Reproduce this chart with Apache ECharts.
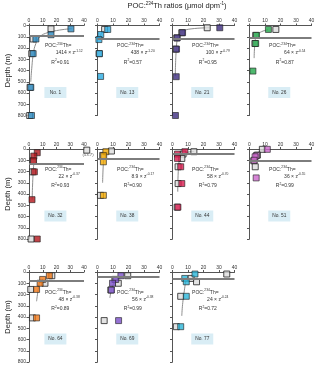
<!DOCTYPE html>
<html><head><meta charset="utf-8">
<script src="https://cdn.jsdelivr.net/npm/echarts@6/dist/echarts.min.js"></script>
<style>html,body{margin:0;padding:0;background:#fff}#c{width:320px;height:369px}</style>
</head><body><div id="c"></div>
<script>
// ---------- data (ratio, depth) ----------
const stations = ['No. 1','No. 13','No. 21','No. 26','No. 32','No. 38','No. 44','No. 51','No. 64','No. 69','No. 77'];
const stationColors = ['#2a8ac0','#29abe2','#3d2d80','#22a84a','#b3151b','#f2a900','#d81b4f','#cc66cc','#f07818','#7b4fc9','#2bb5d8'];
const mldDepth = [95, 115, 115, 105, 128, 83, 45, 105, 82, 42, 62];
const fitA = ['1414','438','100','64','22','8.9','58','36','48','56','24'];
const fitB = ['-1.12','-1.20','-0.79','-0.54','-0.37','-0.17','-0.70','-0.55','-0.38','-0.38','-0.24'];
const fitR2 = ['0.91','0.57','0.95','0.87','0.93','0.90','0.79','0.99','0.89','0.99','0.72'];
const xRange = [0, 40];
const depthRange = [0, 800];

const no1_open = [[16,30],[3,120],[2,250],[0.8,550],[0.5,800]];
const no1_col  = [[30.5,30],[16,82],[5,120],[3,250],[1.3,550],[1.8,800]];
const no1_fit  = [[31,28],[20,45],[12,70],[8,100],[5,160],[3.2,250],[2,380],[1.3,500]];

const no13_open = [[4.6,35],[1,250]];
const no13_col  = [[6.6,35],[2.1,80],[0.9,125],[1.3,250],[2,453]];
const no13_fit  = [[6.5,33],[3.5,55],[2,85],[1.3,125]];

const no21_open = [[22.4,20],[6,64],[2.8,110],[2,210]];
const no21_col  = [[30.5,20],[6.5,64],[3,110],[2.6,210],[2.4,455],[1.9,800]];
const no21_fit  = [[24,20],[12,30],[6,55],[4,85],[3,130],[2.4,220],[2,330],[1.8,450]];

const no26_open = [[17,35],[4,88],[3.5,160]];
const no26_col  = [[12.2,35],[4.5,88],[4,160],[2.2,405]];
const no26_fit  = [[12,38],[7,60],[4.5,95],[3.5,160],[3,290]];

const no32_open = [[53.7,10],[3,105],[2.7,203],[1.5,800]];
const no32_col  = [[6,33],[3.5,63],[3.3,105],[3.9,203],[2.2,450],[6,800]];
const no32_fit  = [[6,30],[4.5,60],[3.7,110],[3.1,200],[2.6,320],[2.3,450]];

const no38_open = [[9,18],[3.4,57],[1.9,412]];
const no38_col  = [[5.4,24],[4,60],[3.8,114],[3.8,412]];
const no38_fit  = [[4.8,40],[4.2,80],[3.7,150],[3.3,300]];

const no44_open = [[13.8,24],[6.8,45],[6,84],[3.6,158],[3.6,307],[3,517]];
const no44_col  = [[8,24],[3.2,45],[3.2,84],[5.3,158],[6,307],[3.5,517]];
const no44_fit  = [[14,22],[8,35],[5.5,60],[4.3,110],[3.7,200],[3.4,380]];

const no51_open = [[8.3,3],[5.1,54],[2.8,105],[3.7,158]];
const no51_col  = [[11.5,3],[4.5,58],[3.6,69],[3,100],[4.3,257]];
const no51_fit  = [[10,8],[6.5,20],[5,50],[3.8,80],[3.2,110]];

const no64_open = [[16.6,33],[11.6,100],[1.3,155],[2.5,408]];
const no64_col  = [[14.8,33],[9.9,66],[8.1,100],[5.5,155],[5.5,408]];
const no64_fit  = [[7.5,90],[6.5,170],[5.5,260]];

const no69_open = [[19.5,33],[11.2,66],[13.4,100],[8.6,160],[4.3,432]];
const no69_col  = [[15.1,33],[11.8,66],[9.7,100],[9,160],[13.6,432]];
const no69_fit  = [[14.5,40],[11,90],[9,160],[8,230]];

const no77_open = [[35,18],[12,57],[15.5,87],[5.3,216],[2.5,486]];
const no77_col  = [[14.5,18],[7.9,57],[8.9,87],[8.9,216],[5.3,486]];
const no77_fit  = [[8.5,80],[7.5,180],[6.5,290],[6,390]];

const openSets = [no1_open,no13_open,no21_open,no26_open,no32_open,no38_open,no44_open,no51_open,no64_open,no69_open,no77_open];
const colSets  = [no1_col,no13_col,no21_col,no26_col,no32_col,no38_col,no44_col,no51_col,no64_col,no69_col,no77_col];
const fitSets  = [no1_fit,no13_fit,no21_fit,no26_fit,no32_fit,no38_fit,no44_fit,no51_fit,no64_fit,no69_fit,no77_fit];
const offScaleLabel = '(53.7)';

// ---------- layout ----------
const colLeft = [29, 97.5, 172.5, 249.5];
const colWidth = [55, 62, 62, 62];
const rowTop = [25.5, 149, 272];
const rowHeight = 90;
const axisCap = 42; // off-scale values drawn just past the right edge
const FONT = '"Liberation Sans", Arial, sans-serif';

const grids = [], xAxes = [], yAxes = [], series = [], graphics = [];
stations.forEach((name, i) => {
  const r = Math.floor(i / 4), c = i % 4;
  const l = colLeft[c], t = rowTop[r], w = colWidth[c];
  grids.push({ left: l, top: t, width: w, height: rowHeight });
  xAxes.push({
    gridIndex: i, type: 'value', position: 'top', min: xRange[0], max: xRange[1], interval: 10,
    axisLine: { show: true, onZero: false, lineStyle: { color: '#555', width: 1 } },
    axisTick: { show: true, length: 2, lineStyle: { color: '#555' } },
    axisLabel: { show: true, fontSize: 5, color: '#333', margin: 2, fontFamily: FONT },
    splitLine: { show: false }
  });
  yAxes.push({
    gridIndex: i, type: 'value', inverse: true, min: depthRange[0], max: depthRange[1], interval: 100,
    axisLine: { show: true, onZero: false, lineStyle: { color: '#555', width: 1 } },
    axisTick: { show: true, length: 2.5, lineStyle: { color: '#555' } },
    axisLabel: { show: c === 0, fontSize: 5, color: '#333', margin: 3, fontFamily: FONT },
    splitLine: { show: false }
  });
  // mixed-layer line
  series.push({
    type: 'line', xAxisIndex: i, yAxisIndex: i, data: [], silent: true, z: 2,
    markLine: { silent: true, symbol: ['none','none'], label: { show: false }, animation: false,
      lineStyle: { color: '#7d7d7d', width: 2, type: 'solid', opacity: 1 },
      emphasis: { disabled: true },
      data: [[{ coord: [xRange[0], mldDepth[i]] }, { coord: [xRange[1], mldDepth[i]] }]] }
  });
  // power-law fit curve
  series.push({
    type: 'line', xAxisIndex: i, yAxisIndex: i, data: fitSets[i], smooth: true,
    symbol: 'none', lineStyle: { color: '#808080', width: 0.9 }, z: 1, silent: true
  });
  series.push({
    type: 'scatter', xAxisIndex: i, yAxisIndex: i, clip: false,
    data: openSets[i].map(p => [Math.min(p[0], axisCap), p[1]]),
    symbol: 'rect', symbolSize: 6, z: 3,
    itemStyle: { color: '#dcdcdc', borderColor: '#222', borderWidth: 1 }
  });
  series.push({
    type: 'scatter', xAxisIndex: i, yAxisIndex: i, clip: false,
    data: colSets[i],
    symbol: 'rect', symbolSize: 6, z: 4,
    itemStyle: { color: stationColors[i], borderColor: '#222', borderWidth: 0.8 }
  });
  const rich = {
    n: { fontSize: 5, fontFamily: FONT, fill: '#333', color: '#333', lineHeight: 7 },
    s: { fontSize: 3.3, fontFamily: FONT, fill: '#333', color: '#333', verticalAlign: 'top', lineHeight: 7 }
  };
  graphics.push({ type: 'text', x: l + 0.53 * w, y: t + 20.5, z: 10,
    style: { text: '{n|POC:}{s|234}{n|Th=}', rich, align: 'center', verticalAlign: 'middle' } });
  graphics.push({ type: 'text', x: l + 0.73 * w, y: t + 27.5, z: 10,
    style: { text: '{n|' + fitA[i] + ' × z}{s|' + fitB[i] + '}', rich, align: 'center', verticalAlign: 'middle' } });
  graphics.push({ type: 'text', x: l + 0.57 * w, y: t + 37, z: 10,
    style: { text: '{n|R}{s|2}{n|=' + fitR2[i] + '}', rich, align: 'center', verticalAlign: 'middle' } });
  graphics.push({ type: 'rect', shape: { x: l + 0.48 * w - 11, y: t + 61.5, width: 22, height: 11 },
    style: { fill: '#d9edf5' }, z: 9 });
  graphics.push({ type: 'text', x: l + 0.48 * w, y: t + 67, z: 10,
    style: { text: name, fill: '#333', font: '4.8px ' + FONT, align: 'center', verticalAlign: 'middle' } });
  if (c === 0) {
    graphics.push({ type: 'text', x: 7.5, y: t + rowHeight / 2, rotation: Math.PI / 2, z: 10,
      style: { text: 'Depth (m)', fill: '#222', font: '7.5px ' + FONT, align: 'center', verticalAlign: 'middle' } });
  }
  if (i === 4) {
    graphics.push({ type: 'text', x: l + w + 4, y: t + 6, z: 10,
      style: { text: offScaleLabel, fill: '#555', font: '4.3px ' + FONT, align: 'center', verticalAlign: 'middle' } });
  }
});

graphics.push({ type: 'text', x: 177, y: 5.5, z: 10,
  style: { text: '{n|POC:}{s|234}{n|Th ratios (μmol dpm}{s|-1}{n|)}',
    rich: { n: { fontSize: 7.5, fontFamily: FONT, fill: '#222', color: '#222', lineHeight: 9 },
            s: { fontSize: 4.5, fontFamily: FONT, fill: '#222', color: '#222', verticalAlign: 'top', lineHeight: 9 } },
    align: 'center', verticalAlign: 'middle' } });

const chart = echarts.init(document.getElementById('c'), null, { renderer: 'canvas' });
chart.setOption({
  animation: false,
  backgroundColor: '#fff',
  grid: grids, xAxis: xAxes, yAxis: yAxes, series: series,
  graphic: { elements: graphics }
});
</script></body></html>
